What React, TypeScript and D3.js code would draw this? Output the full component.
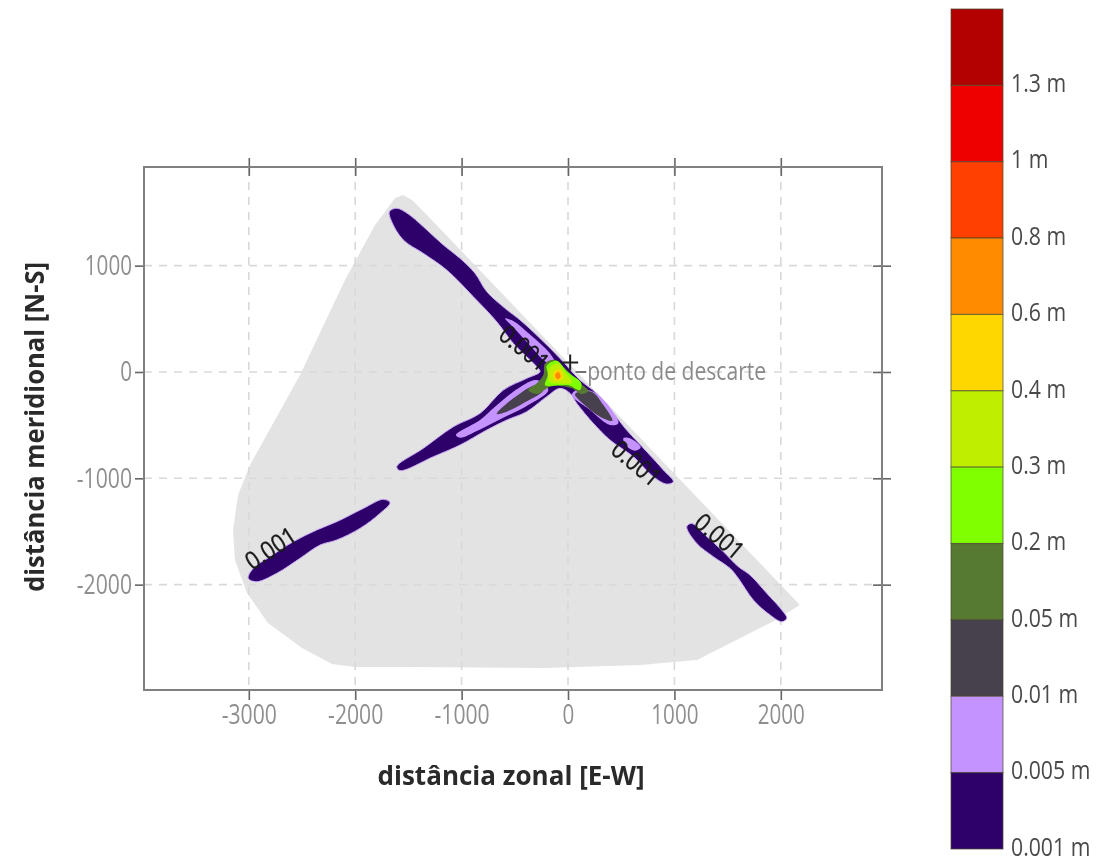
import React, { useEffect, useRef } from 'react';
import * as d3 from 'd3';

type Pt = [number, number];

const xTicks = [-3000, -2000, -1000, 0, 1000, 2000];
const yTicks = [1000, 0, -1000, -2000];

// contour levels, top of the colour bar first
const levelLabels = ['1.3 m', '1 m', '0.8 m', '0.6 m', '0.4 m', '0.3 m', '0.2 m', '0.05 m', '0.01 m', '0.005 m', '0.001 m'];
const levelColors = ['#b30000', '#ee0000', '#ff4000', '#ff8c00', '#ffd700', '#c0ee00', '#7fff00', '#567a30', '#473f4d', '#c493ff', '#2e006b'];

// grey model domain [m]
const domainArea: Pt[] = [[-1626, 1637], [-1551, 1665], [-1466, 1618], [-1344, 1496], [2180, -2192], [1917, -2352], [1212, -2709], [677, -2756], [-216, -2785], [-1504, -2775], [-2002, -2775], [-2218, -2747], [-2500, -2596], [-2820, -2361], [-3017, -2079], [-3130, -1769], [-3148, -1486], [-3101, -1157], [-2989, -875], [-2848, -621], [-2519, -28], [-2096, 865], [-1814, 1383], [-1720, 1505]];

// thickness contours [m], x = zonal, y = meridional
const main001: Pt[] = [[-1679, 1508], [-1610, 1540], [-1501, 1486], [-1360, 1367], [-1172, 1195], [-1015, 1069], [-874, 928], [-764, 756], [-592, 599], [-451, 489], [-263, 316], [-75, 128], [113, -76], [269, -201], [426, -389], [551, -546], [740, -750], [896, -922], [990, -1032], [927, -1054], [802, -985], [614, -797], [395, -640], [238, -483], [82, -295], [19, -201], [-75, -154], [-200, -232], [-388, -373], [-576, -452], [-764, -546], [-1015, -687], [-1266, -797], [-1579, -928], [-1610, -891], [-1360, -718], [-1078, -515], [-827, -389], [-608, -170], [-388, -60], [-263, 3], [-294, 50], [-514, 269], [-670, 473], [-890, 708], [-1140, 959], [-1360, 1116], [-1548, 1242], [-1657, 1414]];
const farSw001: Pt[] = [[-3005, -1941], [-2958, -1847], [-2801, -1737], [-2582, -1596], [-2362, -1486], [-2174, -1408], [-1924, -1283], [-1736, -1198], [-1673, -1229], [-1767, -1330], [-1955, -1471], [-2174, -1580], [-2331, -1628], [-2519, -1753], [-2738, -1894], [-2926, -1972]];
const farSe001: Pt[] = [[1116, -1455], [1163, -1424], [1272, -1518], [1460, -1690], [1601, -1831], [1711, -1910], [1868, -2082], [2009, -2239], [2056, -2317], [2009, -2349], [1899, -2286], [1742, -2145], [1601, -1941], [1523, -1847], [1366, -1737], [1210, -1612]];

const nw005: Pt[] = [[-592, 505], [-514, 480], [-388, 379], [-169, 175], [-120, 80], [-200, 90], [-357, 250], [-514, 420]];
const se005: Pt[] = [[82, -170], [238, -185], [364, -295], [473, -483], [395, -499], [207, -358], [35, -217]];
const seBlob005: Pt[] = [[520, -624], [583, -624], [683, -709], [630, -740], [551, -696]];
const sw005: Pt[] = [[-1053, -593], [-827, -452], [-702, -342], [-514, -185], [-294, -76], [-185, -170], [-388, -320], [-576, -414], [-827, -540], [-1015, -618]];

const sw01: Pt[] = [[-670, -395], [-514, -248], [-294, -122], [-232, -170], [-420, -295], [-576, -373]];
const se01: Pt[] = [[66, -207], [222, -185], [332, -311], [417, -458], [301, -420], [175, -326]];

const core05: Pt[] = [[-216, 81], [-122, 113], [-12, 19], [113, -107], [191, -176], [129, -207], [35, -154], [-75, -132], [-169, -138], [-294, -207], [-373, -170], [-294, -107], [-232, -28]];
const core2: Pt[] = [[-200, 60], [-106, 105], [-10, 5], [125, -105], [110, -170], [5, -125], [-91, -125], [-215, -125], [-190, -28]];
const core3: Pt[] = [[-175, 35], [-91, 80], [-30, 0], [40, -100], [-60, -110], [-170, -95]];
const core4: Pt[] = [[-138, -13], [-81, 25], [-50, -28], [-59, -69], [-122, -75]];
const core6: Pt[] = [[-122, -28], [-91, 3], [-69, -44], [-100, -69]];

const contours: { pts: Pt[]; level: string }[] = [
  { pts: main001, level: '0.001 m' },
  { pts: farSw001, level: '0.001 m' },
  { pts: farSe001, level: '0.001 m' },
  { pts: nw005, level: '0.005 m' },
  { pts: se005, level: '0.005 m' },
  { pts: seBlob005, level: '0.005 m' },
  { pts: sw005, level: '0.005 m' },
  { pts: sw01, level: '0.01 m' },
  { pts: se01, level: '0.01 m' },
  { pts: core05, level: '0.05 m' },
  { pts: core2, level: '0.2 m' },
  { pts: core3, level: '0.3 m' },
  { pts: core4, level: '0.4 m' },
  { pts: core6, level: '0.6 m' },
];

// contour labels: position in data units and rotation along the plume
const contourLabels: { x: number; y: number; angle: number }[] = [
  { x: -423, y: 207, angle: 39 },
  { x: 630, y: -875, angle: 40 },
  { x: -2782, y: -1675, angle: -33 },
  { x: 1410, y: -1562, angle: 40 },
];

const FONT = '"Open Sans", sans-serif';

const App = () => {
  const ref = useRef<SVGSVGElement | null>(null);

  useEffect(() => {
    const svg = d3.select(ref.current);
    svg.selectAll('*').remove();

    const left = 144, right = 882, top = 167, bottom = 690;

    const x = d3.scaleLinear().domain([-3985, 2951]).range([left, right]);
    const y = d3.scaleLinear().domain([-2991, 1928]).range([bottom, top]);
    const bar = d3.scaleBand().domain(levelLabels).range([9, 849]).padding(0);
    const color = d3.scaleOrdinal<string, string>().domain(levelLabels).range(levelColors);

    svg.append('defs').append('filter').attr('id', 'soft')
      .append('feGaussianBlur').attr('stdDeviation', 0.6);

    const root = svg.append('g').attr('filter', 'url(#soft)');

    const line = d3.line<Pt>().x(d => x(d[0])).y(d => y(d[1])).curve(d3.curveCatmullRomClosed.alpha(0.5));
    const outline = d3.line<Pt>().x(d => x(d[0])).y(d => y(d[1])).curve(d3.curveLinearClosed);

    root.append('path')
      .attr('d', outline(domainArea))
      .attr('fill', '#e3e3e3');

    // dashed grid
    root.append('g').selectAll('line').data(xTicks).enter().append('line')
      .attr('x1', d => x(d)).attr('x2', d => x(d)).attr('y1', top).attr('y2', bottom)
      .attr('stroke', '#d9d9d9').attr('stroke-width', 1.6).attr('stroke-dasharray', '8 7');
    root.append('g').selectAll('line').data(yTicks).enter().append('line')
      .attr('x1', left).attr('x2', right).attr('y1', d => y(d)).attr('y2', d => y(d))
      .attr('stroke', '#d9d9d9').attr('stroke-width', 1.6).attr('stroke-dasharray', '8 7');

    // plume
    root.append('g').selectAll('path').data(contours).enter().append('path')
      .attr('d', d => line(d.pts))
      .attr('fill', d => color(d.level))
      .attr('stroke', d => d.level === '0.001 m' ? '#c9a8f5' : 'none')
      .attr('stroke-width', 1)
      .attr('stroke-linejoin', 'round');

    root.append('g').selectAll('text').data(contourLabels).enter().append('text')
      .attr('transform', d => `translate(${x(d.x)},${y(d.y)}) rotate(${d.angle})`)
      .attr('text-anchor', 'middle')
      .attr('dominant-baseline', 'middle')
      .attr('font-family', FONT)
      .attr('font-size', 25)
      .attr('fill', '#1a1a1a')
      .attr('stroke', '#1a1a1a')
      .attr('stroke-width', 0.4)
      .attr('textLength', 56)
      .attr('lengthAdjust', 'spacingAndGlyphs')
      .text('0.001');

    // discharge point
    root.append('path')
      .attr('d', `M${x(20)},${y(90) - 8}V${y(90) + 8}M${x(20) - 8},${y(90)}H${x(20) + 8}`)
      .attr('stroke', '#222').attr('stroke-width', 2).attr('fill', 'none');
    root.append('line')
      .attr('x1', x(70)).attr('x2', x(170)).attr('y1', y(0)).attr('y2', y(0))
      .attr('stroke', '#555').attr('stroke-width', 1.6);
    root.append('text')
      .attr('x', x(180)).attr('y', y(0) + 1)
      .attr('dominant-baseline', 'middle')
      .attr('font-family', FONT).attr('font-size', 26)
      .attr('fill', '#8a8a8a')
      .attr('textLength', 179).attr('lengthAdjust', 'spacingAndGlyphs')
      .text('ponto de descarte');

    // axes
    const styleAxis = (g: any) => {
      g.select('.domain').remove();
      g.selectAll('line').attr('stroke', '#666').attr('stroke-width', 1.6);
      g.selectAll('text')
        .attr('font-family', FONT).attr('font-size', 28).attr('fill', '#8f8f8f')
        .attr('lengthAdjust', 'spacingAndGlyphs')
        .attr('textLength', (d: number) => String(Math.abs(d)).length * 11.8 + (d < 0 ? 8 : 0));
    };
    root.append('g').attr('transform', `translate(0,${bottom})`)
      .call(d3.axisBottom(x).tickValues(xTicks).tickSize(10).tickPadding(4).tickFormat(d => String(d)))
      .call(styleAxis);
    root.append('g').attr('transform', `translate(${left},0)`)
      .call(d3.axisLeft(y).tickValues(yTicks).tickSize(9).tickPadding(3).tickFormat(d => String(d)))
      .call(styleAxis);
    root.append('g').attr('transform', `translate(0,${top + 9})`)
      .call(d3.axisTop(x).tickValues(xTicks).tickSize(18).tickFormat(() => ''))
      .call(styleAxis);
    root.append('g').attr('transform', `translate(${right + 9},0)`)
      .call(d3.axisLeft(y).tickValues(yTicks).tickSize(18).tickFormat(() => ''))
      .call(styleAxis);

    root.append('rect')
      .attr('x', left).attr('y', top).attr('width', right - left).attr('height', bottom - top)
      .attr('fill', 'none').attr('stroke', '#808080').attr('stroke-width', 2);

    root.append('text')
      .attr('x', 511).attr('y', 778)
      .attr('text-anchor', 'middle').attr('dominant-baseline', 'middle')
      .attr('font-family', FONT).attr('font-size', 27).attr('font-weight', 'bold')
      .attr('fill', '#2a2a2a')
      .attr('textLength', 267).attr('lengthAdjust', 'spacingAndGlyphs')
      .text('distância zonal [E-W]');
    root.append('text')
      .attr('transform', 'translate(37,427) rotate(-90)')
      .attr('text-anchor', 'middle').attr('dominant-baseline', 'middle')
      .attr('font-family', FONT).attr('font-size', 27).attr('font-weight', 'bold')
      .attr('fill', '#2a2a2a')
      .attr('textLength', 330).attr('lengthAdjust', 'spacingAndGlyphs')
      .text('distância meridional [N-S]');

    // colour bar
    root.append('g').selectAll('rect').data(levelLabels).enter().append('rect')
      .attr('x', 951).attr('width', 52)
      .attr('y', d => bar(d) as number)
      .attr('height', bar.bandwidth())
      .attr('fill', d => color(d))
      .attr('stroke', '#4a4a30').attr('stroke-opacity', 0.6).attr('stroke-width', 1.2);

    root.append('g').selectAll('text').data(levelLabels).enter().append('text')
      .attr('transform', d => `translate(1011,${(bar(d) as number) + bar.bandwidth()}) scale(0.85,1)`)
      .attr('dominant-baseline', 'middle')
      .attr('font-family', FONT).attr('font-size', 25)
      .attr('fill', '#4a4a4a')
      .text(d => d);
  }, []);

  return (
    <svg
      ref={ref}
      width={1097}
      height={862}
      style={{ position: 'absolute', left: 0, top: 0, background: '#fff' }}
    />
  );
};

export default App;
